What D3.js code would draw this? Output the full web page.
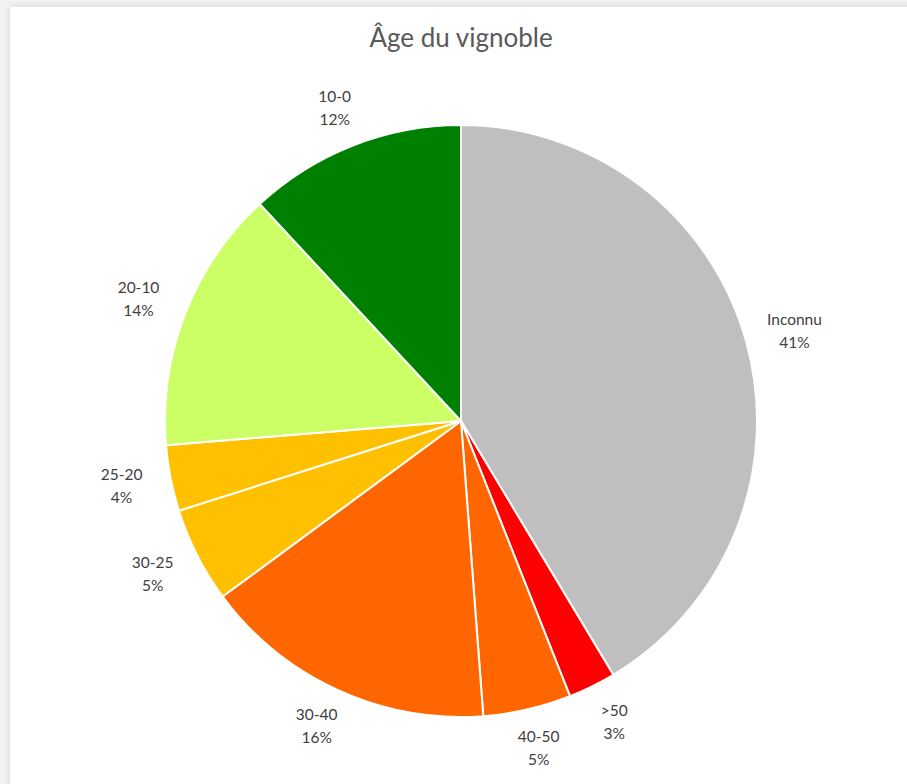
<!DOCTYPE html>
<html>
<head>
<meta charset="utf-8">
<script src="https://cdn.jsdelivr.net/npm/d3@7"></script>
<style>
  html, body { margin: 0; padding: 0; background: #fff; }
  svg { display: block; }
</style>
</head>
<body>
<div id="chart"></div>
<script>
// Data, clockwise from 12 o'clock.
const categories = ['Inconnu', '>50', '40-50', '30-40', '30-25', '25-20', '20-10', '10-0'];
const values = [41.4, 2.6, 4.8, 16.1, 5.2, 3.6, 14.4, 11.9];
const sliceColors = ['#BFBFBF', '#FF0000', '#FF6600', '#FF6600', '#FFC000', '#FFC000', '#CCFF66', '#008000'];
const chartTitle = 'Âge du vignoble';

const width = 907;
const height = 784;
const cx = 461;
const cy = 421;
const radius = 296;
// Labels sit on a slightly flattened ring outside the pie.
const labelRx = 346;
const labelRy = 336;
const fontFamily = 'Lato, Carlito, Calibri, "Open Sans", sans-serif';

const svg = d3.select('#chart')
  .append('svg')
  .attr('width', width)
  .attr('height', height);

// Grey frame with the white chart card on top.
const defs = svg.append('defs');
const shadow = defs.append('filter')
  .attr('id', 'card-shadow')
  .attr('x', '-5%').attr('y', '-5%')
  .attr('width', '110%').attr('height', '110%');
shadow.append('feGaussianBlur')
  .attr('in', 'SourceAlpha')
  .attr('stdDeviation', 4);
shadow.append('feComponentTransfer')
  .append('feFuncA').attr('type', 'linear').attr('slope', 0.15);
const merge = shadow.append('feMerge');
merge.append('feMergeNode');
merge.append('feMergeNode').attr('in', 'SourceGraphic');

svg.append('rect')
  .attr('width', width)
  .attr('height', height)
  .attr('fill', '#f3f3f3');

svg.append('rect')
  .attr('x', 10)
  .attr('y', 7)
  .attr('width', width)
  .attr('height', height)
  .attr('fill', '#ffffff')
  .attr('filter', 'url(#card-shadow)');

// Title.
svg.append('text')
  .attr('x', cx)
  .attr('y', 47)
  .attr('text-anchor', 'middle')
  .attr('font-family', fontFamily)
  .attr('font-size', 26)
  .attr('fill', '#595959')
  .text(chartTitle);

const total = d3.sum(values);
const slices = categories.map((c, i) => ({ name: c, value: values[i], color: sliceColors[i] }));

const pie = d3.pie()
  .sort(null)
  .value(d => d.value);

const arc = d3.arc()
  .innerRadius(0)
  .outerRadius(radius);

const g = svg.append('g')
  .attr('transform', 'translate(' + cx + ',' + cy + ')');

const arcs = pie(slices);

g.selectAll('path.slice')
  .data(arcs)
  .enter()
  .append('path')
  .attr('class', 'slice')
  .attr('d', arc)
  .attr('fill', d => d.data.color)
  .attr('stroke', '#ffffff')
  .attr('stroke-width', 2)
  .attr('stroke-linejoin', 'round');

// Outside-end labels: category on the first line, percentage below.
function labelPos(d) {
  const a = (d.startAngle + d.endAngle) / 2;
  return [labelRx * Math.sin(a), -labelRy * Math.cos(a)];
}

const labels = g.selectAll('text.label')
  .data(arcs)
  .enter()
  .append('text')
  .attr('class', 'label')
  .attr('transform', d => 'translate(' + labelPos(d) + ')')
  .attr('text-anchor', 'middle')
  .attr('font-family', fontFamily)
  .attr('font-size', 15.5)
  .attr('fill', '#404040');

labels.append('tspan')
  .attr('x', 0)
  .attr('y', -6)
  .text(d => d.data.name);

labels.append('tspan')
  .attr('x', 0)
  .attr('y', 17)
  .text(d => Math.round(d.data.value / total * 100) + '%');
</script>
</body>
</html>
